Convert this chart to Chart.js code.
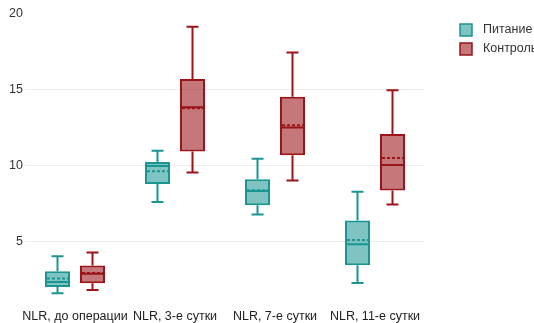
<!DOCTYPE html>
<html lang="ru">
<head>
<meta charset="utf-8">
<title>NLR</title>
<script src="https://cdn.jsdelivr.net/npm/chart.js@4.4.1/dist/chart.umd.min.js"></script>
<style>
  html, body { margin: 0; padding: 0; background: #fff; overflow: hidden; }
  #wrap { position: relative; width: 534px; height: 323px; }
</style>
</head>
<body>
<div id="wrap"><canvas id="nlrChart"></canvas></div>
<script>
// данные с картинки (оценка по пикселям)
const categories = ['NLR, до операции', 'NLR, 3-е сутки', 'NLR, 7-е сутки', 'NLR, 11-е сутки']

const pitanieMin = [1.57, 7.58, 6.76, 2.24]
const pitanieQ1 = [1.97, 8.76, 7.37, 3.41]
const pitanieMedian = [2.3, 9.95, 8.3, 4.8]
const pitanieMean = [2.54, 9.6, 8.35, 5.07]
const pitanieQ3 = [3.02, 10.22, 9.07, 6.35]
const pitanieMax = [4.0, 10.96, 10.43, 8.25]

const kontrolMin = [1.77, 9.52, 9.0, 7.41]
const kontrolQ1 = [2.22, 10.9, 10.66, 8.34]
const kontrolMedian = [2.85, 13.82, 12.49, 10.02]
const kontrolMean = [2.9, 13.75, 12.64, 10.48]
const kontrolQ3 = [3.4, 15.68, 14.51, 12.06]
const kontrolMax = [4.25, 19.12, 17.43, 14.95]

const yTicks = [5, 10, 15, 20]

const FONT = '"Liberation Sans", Arial, sans-serif'

// усы, медиана (сплошная) и среднее (пунктир)
const boxExtras = {
    id: 'boxExtras',
    afterDatasetsDraw(chart) {
        const { ctx } = chart
        const y = chart.scales.y
        const capHalf = 6

        chart.data.datasets.forEach((ds, i) => {
            const meta = chart.getDatasetMeta(i)
            meta.data.forEach((bar, j) => {
                const x = bar.x
                const half = bar.width / 2
                const yMin = y.getPixelForValue(ds.stats.min[j])
                const yMax = y.getPixelForValue(ds.stats.max[j])
                const yQ1 = y.getPixelForValue(ds.data[j][0])
                const yQ3 = y.getPixelForValue(ds.data[j][1])
                const yMed = y.getPixelForValue(ds.stats.median[j])
                const yMean = y.getPixelForValue(ds.stats.mean[j])

                ctx.save()
                ctx.strokeStyle = ds.borderColor
                ctx.lineWidth = 2
                ctx.beginPath()
                ctx.moveTo(x, yQ3)
                ctx.lineTo(x, yMax)
                ctx.moveTo(x - capHalf, yMax)
                ctx.lineTo(x + capHalf, yMax)
                ctx.moveTo(x, yQ1)
                ctx.lineTo(x, yMin)
                ctx.moveTo(x - capHalf, yMin)
                ctx.lineTo(x + capHalf, yMin)
                ctx.moveTo(x - half + 1, yMed)
                ctx.lineTo(x + half - 1, yMed)
                ctx.stroke()

                ctx.setLineDash([3, 2])
                ctx.beginPath()
                ctx.moveTo(x - half + 2, yMean)
                ctx.lineTo(x + half - 2, yMean)
                ctx.stroke()
                ctx.restore()
            })
        })
    }
}

// легенда справа, текст обрезается краем как на оригинале
const sideLegend = {
    id: 'sideLegend',
    afterDraw(chart) {
        const { ctx, chartArea } = chart
        const left = chartArea.right + 35
        ctx.save()
        ctx.font = '12.5px ' + FONT
        ctx.textBaseline = 'middle'
        chart.data.datasets.forEach((ds, i) => {
            const cy = 30 + i * 19
            ctx.fillStyle = ds.backgroundColor
            ctx.fillRect(left, cy - 6, 12, 12)
            ctx.strokeStyle = ds.borderColor
            ctx.lineWidth = 1.5
            ctx.strokeRect(left, cy - 6, 12, 12)
            ctx.fillStyle = '#333'
            ctx.fillText(ds.label, left + 23, cy)
        })
        ctx.restore()
    }
}

const el = document.getElementById('nlrChart')

new Chart(el, {
    type: 'bar',
    data: {
        labels: categories,
        datasets: [
            {
                label: 'Питание',
                data: pitanieQ1.map((v, i) => [v, pitanieQ3[i]]),
                stats: { min: pitanieMin, median: pitanieMedian, mean: pitanieMean, max: pitanieMax },
                backgroundColor: 'rgba(26, 150, 146, 0.56)',
                borderColor: 'rgb(26, 150, 146)',
                borderWidth: 2,
                borderSkipped: false
            },
            {
                label: 'Контроль',
                data: kontrolQ1.map((v, i) => [v, kontrolQ3[i]]),
                stats: { min: kontrolMin, median: kontrolMedian, mean: kontrolMean, max: kontrolMax },
                backgroundColor: 'rgba(155, 20, 25, 0.58)',
                borderColor: 'rgb(155, 20, 25)',
                borderWidth: 2,
                borderSkipped: false
            }
        ]
    },
    options: {
        responsive: true,
        maintainAspectRatio: false,
        animation: false,
        categoryPercentage: 0.7,
        barPercentage: 0.714,
        layout: {
            padding: { top: 13.5, right: 109, left: 0, bottom: 0 }
        },
        plugins: {
            legend: { display: false },
            tooltip: { enabled: false }
        },
        scales: {
            x: {
                grid: { display: false, drawTicks: false },
                border: { display: false },
                ticks: {
                    color: '#222',
                    padding: 11.5,
                    maxRotation: 0,
                    autoSkip: false,
                    font: { family: FONT, size: 12.5 }
                },
                afterFit: (scale) => {
                    scale.height = 25
                }
            },
            y: {
                min: 1.25,
                max: 20,
                grid: {
                    drawTicks: false,
                    color: (c) => (c.tick && c.tick.value === 20 ? 'rgba(0,0,0,0)' : '#ececec')
                },
                border: { display: false },
                ticks: {
                    color: '#333',
                    padding: 2,
                    font: { family: FONT, size: 12.5 }
                },
                afterBuildTicks: (scale) => {
                    scale.ticks = yTicks.map((v) => ({ value: v }))
                },
                afterFit: (scale) => {
                    scale.width = 25
                }
            }
        }
    },
    plugins: [boxExtras, sideLegend]
})
</script>
</body>
</html>
